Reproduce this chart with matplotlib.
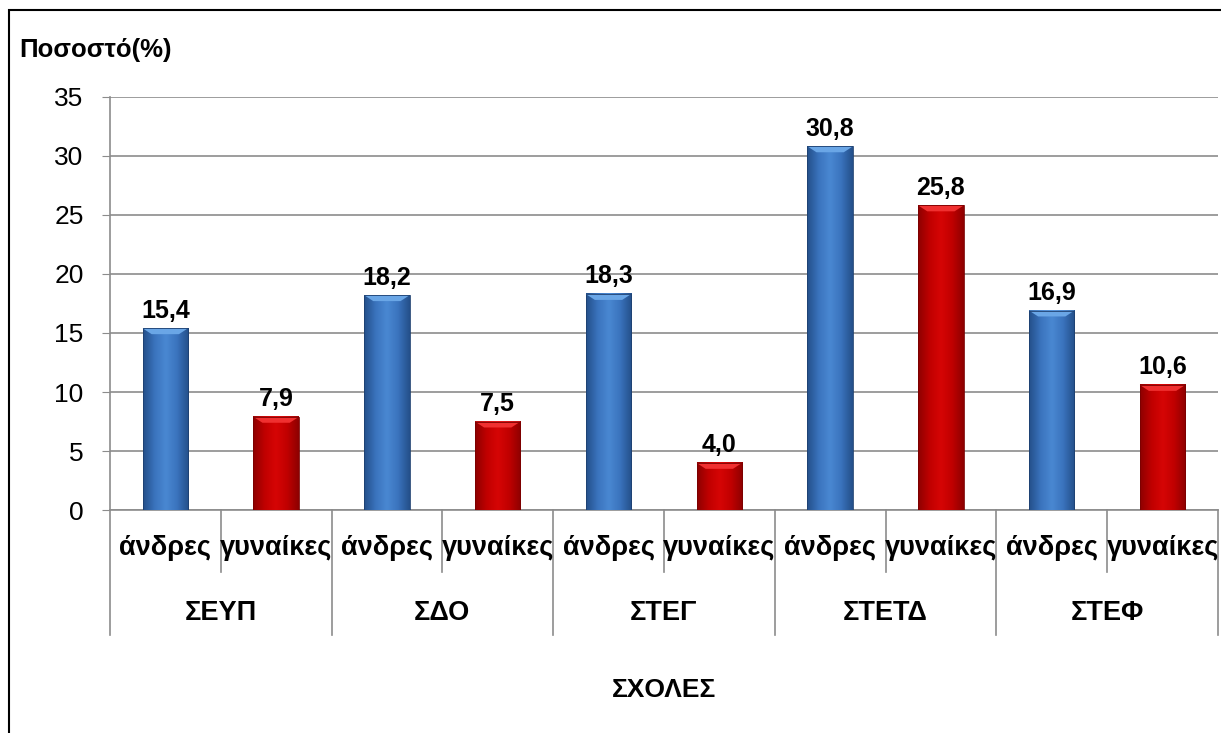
import numpy as np
import matplotlib.pyplot as plt
from matplotlib.patches import Rectangle
import matplotlib.transforms as mtransforms
from matplotlib.colors import LinearSegmentedColormap

plt.rcParams['font.family'] = ['Liberation Sans', 'DejaVu Sans']

# δεδομένα
schools = ['ΣΕΥΠ', 'ΣΔΟ', 'ΣΤΕΓ', 'ΣΤΕΤΔ', 'ΣΤΕΦ']
genders = ['άνδρες', 'γυναίκες']
men = [15.4, 18.2, 18.3, 30.8, 16.9]
women = [7.9, 7.5, 4.0, 25.8, 10.6]
yticks = [0, 5, 10, 15, 20, 25, 30, 35]

blue_cmap = LinearSegmentedColormap.from_list('b', ['#24508a', '#3a73bd', '#4a88d2', '#3a73bd', '#24508a'])
red_cmap = LinearSegmentedColormap.from_list('r', ['#8e0000', '#c00000', '#d60505', '#c00000', '#8e0000'])

fig = plt.figure(figsize=(12.21, 7.33), dpi=100)
ax = fig.add_axes([0.090, 0.304, 0.9075, 0.564])

values = []
colors = []
for m, w in zip(men, women):
    values += [m, w]
    colors += ['b', 'r']
x = np.arange(len(values))

bars = ax.bar(x, values, width=0.41, color='none', edgecolor='none', zorder=3)
grad = np.linspace(0, 1, 64).reshape(1, -1)
for b, c in zip(bars, colors):
    x0, y0, w, h = b.get_x(), b.get_y(), b.get_width(), b.get_height()
    cmap = blue_cmap if c == 'b' else red_cmap
    ax.imshow(grad, cmap=cmap, aspect='auto', extent=[x0, x0 + w, y0, y0 + h],
              zorder=3, interpolation='bicubic')
    # λοξοτμήση στην κορυφή
    top = '#6aa6e6' if c == 'b' else '#f03030'
    ax.add_patch(plt.Polygon([[x0, y0 + h], [x0 + w, y0 + h], [x0 + w * 0.8, y0 + h - 0.5],
                              [x0 + w * 0.2, y0 + h - 0.5]], closed=True,
                             facecolor=top, edgecolor='none', zorder=4))
    ax.add_patch(Rectangle((x0, y0), w, h, facecolor='none',
                           edgecolor='#1e4070' if c == 'b' else '#7a0000', lw=0.6, zorder=4))
    ax.annotate(f'{h:.1f}'.replace('.', ','), (x0 + w / 2, y0 + h), xytext=(0, 4),
                textcoords='offset points', ha='center', va='bottom',
                fontsize=18, fontweight='bold', zorder=5)

ax.set_xlim(-0.5, len(values) - 0.5)
ax.set_ylim(0, 35)
ax.set_yticks(yticks)
ax.tick_params(axis='y', labelsize=19, length=6, color='#8c8c8c', pad=13)
ax.set_xticks([])
ax.yaxis.grid(True, color='#8c8c8c', lw=1.2, zorder=0)
ax.set_axisbelow(True)
for s in ['top', 'right']:
    ax.spines[s].set_visible(False)
ax.spines['left'].set_color('#8c8c8c')
ax.spines['bottom'].set_color('#8c8c8c')
ax.spines['left'].set_linewidth(1.2)
ax.spines['bottom'].set_linewidth(1.2)

# άξονας κατηγοριών δύο επιπέδων
trans = mtransforms.blended_transform_factory(ax.transData, ax.transAxes)
for i in range(len(values)):
    ax.text(i, -0.092, genders[i % 2], transform=trans, ha='center', va='center',
            fontsize=19.5, fontweight='bold')
for j, s in enumerate(schools):
    ax.text(2 * j + 0.5, -0.249, s, transform=trans, ha='center', va='center',
            fontsize=19.5, fontweight='bold')
for k in range(len(values) + 1):
    edge = k - 0.5
    ybot = -0.303 if k % 2 == 0 else -0.150
    ax.plot([edge, edge], [0, ybot], transform=trans, color='#8c8c8c', lw=1.2, clip_on=False)

fig.text(0.016, 0.932, 'Ποσοστό(%)', fontsize=18.5, fontweight='bold', ha='left', va='center')
fig.text(0.544, 0.059, 'ΣΧΟΛΕΣ', fontsize=19, fontweight='bold', ha='center', va='center')

fig.add_artist(Rectangle((0.0074, -0.05), 1.2, 1.05 - 10 / 733, transform=fig.transFigure,
                         facecolor='none', edgecolor='black', lw=1.5))

fig.savefig('out.png', dpi=100)
